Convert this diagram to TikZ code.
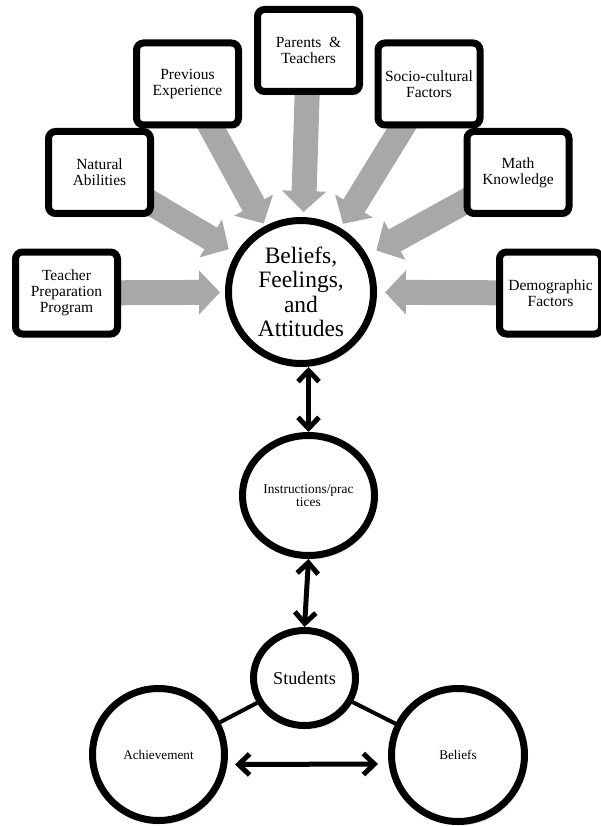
\documentclass[tikz,border=0pt]{standalone}
\usepackage{fontspec}
\setmainfont{Liberation Serif}
\usetikzlibrary{arrows.meta,shapes.geometric,calc,backgrounds,shadows}
\definecolor{arrgray}{RGB}{168,168,168}
\tikzset{
  softshadow/.style={
    drop shadow={shadow xshift=1pt, shadow yshift=-2pt, opacity=0.14, fill=black},
    drop shadow={shadow xshift=2.5pt, shadow yshift=-4pt, opacity=0.08, fill=black}},
  box/.style={draw, line width=7pt, rounded corners=7pt, fill=white,
    minimum width=102pt, minimum height=82pt, align=center, inner sep=0pt,
    font=\fontsize{15.5}{16}\selectfont, softshadow},
  bubble/.style={draw, line width=7pt, ellipse, fill=white, align=center,
    inner sep=0pt, softshadow},
  garrow/.style={draw=arrgray, line width=25pt, -{Triangle[length=21pt,width=43pt]}},
  barrow/.style={line width=5pt, {Straight Barb[length=11pt,width=21pt]}-{Straight Barb[length=11pt,width=21pt]}},
  link/.style={line width=4pt}
}
\begin{document}
\begin{tikzpicture}[x=1pt,y=-1pt]
\useasboundingbox (0,0) rectangle (600,826);
% central circle
\node[bubble, minimum width=145pt, minimum height=143pt,
  font=\fontsize{23.5}{24.5}\selectfont] (bel) at (301,292)
  {Beliefs,\\Feelings,\\and\\Attitudes};
% influence boxes
\node[box] (tp)  at (66.5,293)  {Teacher\\Preparation\\Program};
\node[box] (na)  at (99.5,172.5) {Natural\\Abilities};
\node[box] (pe)  at (187.5,84)  {Previous\\Experience};
\node[box] (pt)  at (308.5,50.5) {Parents\ \ \&\\Teachers};
\node[box] (sc)  at (429,84)    {Socio-cultural\\Factors};
\node[box] (mk)  at (518,172.5) {Math\\Knowledge};
\node[box] (df)  at (550.5,293) {Demographic\\Factors};
% gray block arrows behind boxes
\begin{scope}[on background layer]
\draw[garrow] (tp.center) -- ($(bel.center)!81pt!(tp.center)$);
\draw[garrow] (na.center) -- ($(bel.center)!84pt!(na.center)$);
\draw[garrow] (pe.center) -- ($(bel.center)!78pt!(pe.center)$);
\draw[garrow] (pt.center) -- ($(bel.center)!80pt!(pt.center)$);
\draw[garrow] (sc.center) -- ($(bel.center)!80pt!(sc.center)$);
\draw[garrow] (mk.center) -- ($(bel.center)!86pt!(mk.center)$);
\draw[garrow] (df.center) -- ($(bel.center)!84pt!(df.center)$);
\end{scope}
% lower chain
\node[bubble, minimum width=132pt, minimum height=120pt,
  font=\fontsize{13.4}{13.6}\selectfont] (ins) at (308.5,495.5)
  {Instructions/prac\\tices};
\node[bubble, minimum width=102pt, minimum height=95pt,
  font=\fontsize{18.2}{19}\selectfont] (stu) at (304.5,678) {Students};
\node[bubble, minimum width=132pt, minimum height=132pt,
  font=\fontsize{13.2}{14}\selectfont] (ach) at (158.5,754.5) {Achievement};
\node[bubble, minimum width=133pt, minimum height=133pt,
  font=\fontsize{13.2}{14}\selectfont] (bs) at (458,755) {Beliefs};
\draw[barrow] (bel.south -| ins.north) -- (ins.north);
\draw[barrow] (ins.south) -- (stu.north);
\begin{scope}[on background layer]
\draw[link] (stu) -- (ach);
\draw[link] (stu) -- (bs);
\end{scope}
\draw[barrow] ([shift={(7,10)}]ach.east) -- ([shift={(-10,9)}]bs.west);
\end{tikzpicture}
\end{document}
